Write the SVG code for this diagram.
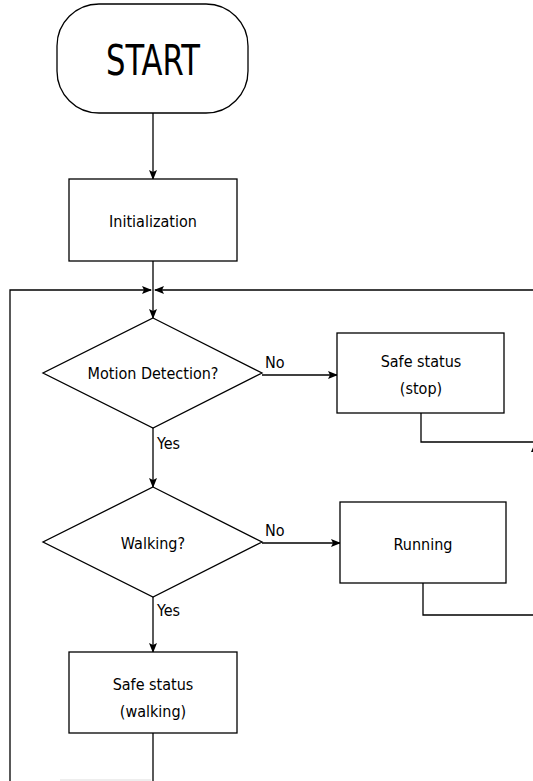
<svg xmlns="http://www.w3.org/2000/svg" width="533" height="781" viewBox="0 0 533 781">
<defs>
<style>
.shape{fill:#fff;stroke:#000;stroke-width:1.3}
.line{fill:none;stroke:#000;stroke-width:1.3}
text{font-family:"DejaVu Sans Condensed","DejaVu Sans",sans-serif;font-size:16px;fill:#000;text-anchor:middle}
.lbl{text-anchor:start}
</style>
<marker id="arr" markerWidth="10" markerHeight="8" refX="9" refY="4" orient="auto" markerUnits="userSpaceOnUse">
<path d="M0,0 L10,4 L0,8 L2,4 Z" fill="#000"/>
</marker>
</defs>
<rect width="533" height="781" fill="#fff"/>
<g id="connectors">
<line class="line" x1="153" y1="113" x2="153" y2="179" marker-end="url(#arr)"/>
<line class="line" x1="153" y1="261" x2="153" y2="318" marker-end="url(#arr)"/>
<polyline class="line" points="10,781 10,290 151,290" marker-end="url(#arr)"/>
<line class="line" x1="533" y1="290" x2="155" y2="290" marker-end="url(#arr)"/>
<line class="line" x1="262" y1="375" x2="337" y2="375" marker-end="url(#arr)"/>
<polyline class="line" points="421,413 421,442 533,442"/>
<path d="M531,452 L535,443 L539,452 Z" fill="#000"/>
<line class="line" x1="153" y1="428" x2="153" y2="487" marker-end="url(#arr)"/>
<line class="line" x1="262" y1="543" x2="340" y2="543" marker-end="url(#arr)"/>
<polyline class="line" points="423,583 423,615 533,615"/>
<line class="line" x1="153" y1="597" x2="153" y2="652" marker-end="url(#arr)"/>
<line class="line" x1="153" y1="733" x2="153" y2="781"/>
<line x1="60" y1="780" x2="151" y2="780" stroke="#ddd" stroke-width="1"/>
<text class="lbl" x="265" y="368">No</text>
<text class="lbl" x="157" y="449">Yes</text>
<text class="lbl" x="265" y="536">No</text>
<text class="lbl" x="157" y="616">Yes</text>
</g>
<g id="start">
<rect class="shape" x="57" y="4" width="191" height="109" rx="42" ry="42"/>
<text x="153" y="75" style="font-size:43px" textLength="94" lengthAdjust="spacingAndGlyphs">START</text>
</g>
<g id="init">
<rect class="shape" x="69" y="179" width="168" height="82"/>
<text x="153" y="227">Initialization</text>
</g>
<g id="motion">
<polygon class="shape" points="153,318 262,373 153,428 43,373"/>
<text x="153" y="379">Motion Detection?</text>
</g>
<g id="safe-stop">
<rect class="shape" x="337" y="333" width="167" height="80"/>
<text x="421" y="367">Safe status</text>
<text x="421" y="394">(stop)</text>
</g>
<g id="walking">
<polygon class="shape" points="153,487 262,542 153,597 43,542"/>
<text x="153" y="549">Walking?</text>
</g>
<g id="running">
<rect class="shape" x="340" y="502" width="166" height="81"/>
<text x="423" y="550">Running</text>
</g>
<g id="safe-walking">
<rect class="shape" x="69" y="652" width="168" height="81"/>
<text x="153" y="690">Safe status</text>
<text x="153" y="717">(walking)</text>
</g>
</svg>
